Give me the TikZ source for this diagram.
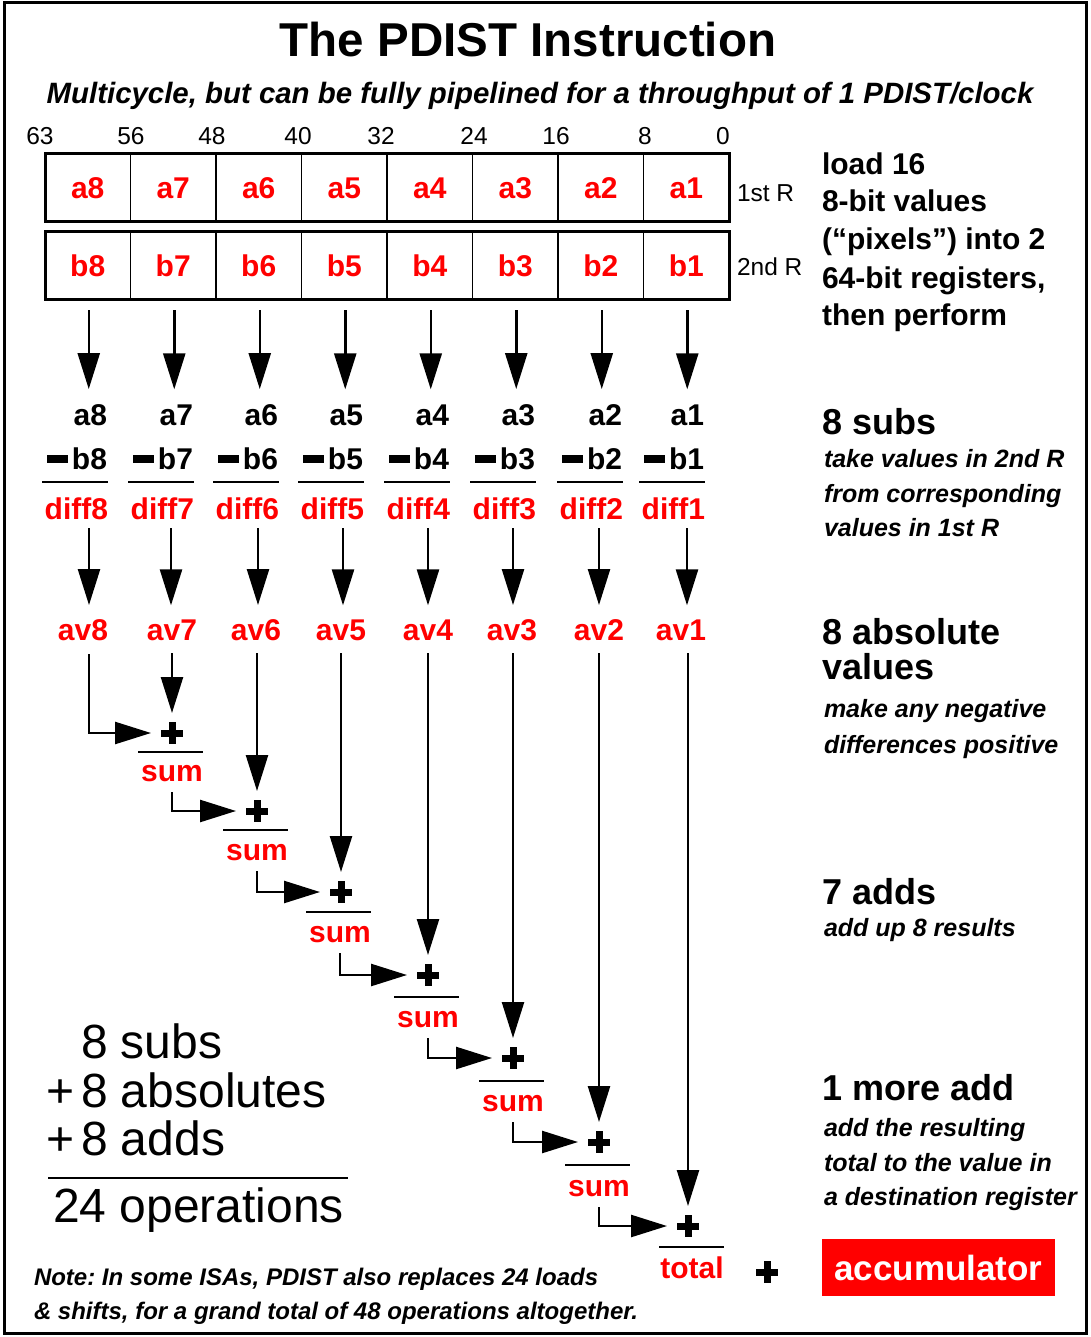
\documentclass[tikz,border=0pt]{standalone}
\usepackage{fontspec}
\setmainfont{Liberation Sans}
\usetikzlibrary{arrows.meta}
\frenchspacing
\newcommand\fsz[1]{\fontsize{#1pt}{#1pt}\selectfont}
\newcommand\minusbar{\rule[6pt]{21pt}{8pt}\hspace{4pt}}
\tikzset{
  txt/.style={inner sep=0pt, outer sep=0pt},
  cell/.style={draw, line width=1.5pt, minimum width=85.5pt, minimum height=68pt,
    inner sep=0pt, outer sep=0pt, text=red, font=\fsz{30}\bfseries},
  bitno/.style={txt, anchor=base, font=\fsz{24.5}},
  rowtxt/.style={txt, font=\fsz{30}\bfseries},
  redtxt/.style={rowtxt, text=red},
  headA/.style={txt, anchor=base west, font=\fsz{30}\bfseries},
  headB/.style={txt, anchor=base west, font=\fsz{36}\bfseries},
  expl/.style={txt, anchor=base west, font=\fsz{25}\bfseries\itshape},
  sumtxt/.style={txt, anchor=base west, font=\fsz{48}},
  notetxt/.style={txt, anchor=base west, font=\fsz{24}\bfseries\itshape},
  rulel/.style={line width=2.5pt},
  arr/.style={line width=2.5pt, -{Triangle[length=36pt,width=22pt]}},
  bigplus/.style={minimum size=22pt, inner sep=0pt, outer sep=0pt, fill=white,
    path picture={
      \fill[black] ([yshift=-3.5pt]path picture bounding box.west) rectangle ([yshift=3.5pt]path picture bounding box.east);
      \fill[black] ([xshift=-3.5pt]path picture bounding box.south) rectangle ([xshift=3.5pt]path picture bounding box.north);
    }},
}
\begin{document}
\begin{tikzpicture}[x=1pt,y=-1pt]
\useasboundingbox (0,0) rectangle (1090,1337);
\draw[line width=3pt] (4,3) rectangle (1086,1333);

% headings
\node[txt, anchor=base, font=\fsz{47.5}\bfseries] (title) at (528,57) {The PDIST Instruction};
\node[txt, anchor=base, font=\fsz{29.4}\bfseries\itshape] (subtitle) at (540,104)
  {Multicycle, but can be fully pipelined for a throughput of 1 PDIST/clock};

% bit positions
\foreach \lab/\x in {63/40,56/131,48/212,40/298,32/381,24/474,16/556,8/645,0/723}
  \node[bitno] (bit\lab) at (\x,145) {\lab};

% the two 64-bit registers
\foreach \i in {1,...,8}{
  \pgfmathsetmacro\cx{45+85.5*(8-\i)+42.75}
  \node[cell] (ra\i) at (\cx,188) {a\i};
  \node[cell] (rb\i) at (\cx,266) {b\i};
}
\draw[line width=3pt] (ra8.north west) rectangle (ra1.south east);
\draw[line width=3pt] (rb8.north west) rectangle (rb1.south east);
\node[txt, anchor=base west, font=\fsz{24.5}] (r1lab) at (737,202) {1st R};
\node[txt, anchor=base west, font=\fsz{24.5}] (r2lab) at (737,276) {2nd R};

% subtractions
\foreach \i/\R in {8/107,7/193,6/278,5/363,4/449,3/535,2/622,1/704}{
  \node[rowtxt, anchor=base east] (ta\i) at (\R,425) {a\i};
  \node[rowtxt, anchor=base east] (tb\i) at (\R,469) {\minusbar b\i};
  \draw[rulel] (\R-65,482) -- (\R+1,482);
  \node[redtxt, anchor=base east] (td\i) at (\R+1,519) {diff\i};
}
\foreach \i in {1,...,8}
  \draw[arr, shorten <=10pt, shorten >=15pt] ([xshift=1pt]rb\i.south) -- ([xshift=1pt]rb\i.south |- ta\i.north);

% absolute values
\foreach \i/\x in {8/83,7/172,6/256,5/341,4/428,3/512,2/599,1/681}
  \node[redtxt, anchor=base] (av\i) at (\x,640) {av\i};
\foreach \i/\x in {8/89,7/171,6/258,5/343,4/428,3/513,2/599,1/687}{
  \coordinate (col\i) at (\x,0);
  \draw[arr, shorten <=9pt, shorten >=14pt] (col\i |- td\i.south) -- (col\i |- av\i.north);
}

% adder chain
\foreach \k/\px/\py in {1/172/733,2/257/811,3/341/892,4/428/975,5/513/1058,6/599/1142,7/688/1226}
  \node[bigplus] (p\k) at (\px,\py) {};
\foreach \k/\sx/\ry/\sb in {1/172/752/781,2/257/830/860,3/340/912/942,4/428/997/1027,5/513/1081/1111,6/599/1165/1196}{
  \draw[rulel] (\sx-34,\ry) -- (\sx+31,\ry);
  \node[redtxt, anchor=base] (s\k) at (\sx,\sb) {sum};
}
\draw[rulel] (659,1247) -- (724,1247);
\node[redtxt, anchor=base] (s7) at (692,1278) {total};

\draw[arr, shorten <=14pt, shorten >=10pt] (col8 |- av8.south) |- (p1.west);
\foreach \k [evaluate=\k as \n using int(\k+1)] in {1,...,6}
  \draw[arr, shorten <=11pt, shorten >=10pt] (s\k.south) |- (p\n.west);
\foreach \k/\j in {1/7,2/6,3/5,4/4,5/3,6/2,7/1}
  \draw[arr, shorten <=13pt, shorten >=9pt] (p\k.north |- av\j.south) -- (p\k.north);

% accumulate
\node[bigplus] (pacc) at (767,1272) {};
\node[fill=red, text=white, font=\fsz{35}\bfseries, minimum width=233pt,
      minimum height=57pt, inner sep=0pt] (acc) at (938.5,1267.5) {accumulator};

% explanations on the right
\node[headA] (l1) at (822,175) {load 16};
\node[headA] (l2) at (822,212) {8-bit values};
\node[headA] (l3) at (822,250) {(“pixels”) into 2};
\node[headA] (l4) at (822,288) {64-bit registers,};
\node[headA] (l5) at (822,325) {then perform};

\node[headB] (h1) at (822,434) {8 subs};
\node[expl] (e11) at (824,467) {take values in 2nd R};
\node[expl] (e12) at (824,502) {from corresponding};
\node[expl] (e13) at (824,536) {values in 1st R};

\node[headB] (h2) at (822,644) {8 absolute};
\node[headB] (h2b) at (822,679) {values};
\node[expl] (e21) at (824,717) {make any negative};
\node[expl] (e22) at (824,753) {differences positive};

\node[headB] (h3) at (822,904) {7 adds};
\node[expl] (e31) at (824,936) {add up 8 results};

\node[headB] (h4) at (822,1100) {1 more add};
\node[expl] (e41) at (824,1136) {add the resulting};
\node[expl] (e42) at (824,1171) {total to the value in};
\node[expl] (e43) at (824,1205) {a destination register};

% operation count
\node[sumtxt] (c1) at (81,1058) {8 subs};
\node[sumtxt] (c2p) at (46,1107) {+};
\node[sumtxt] (c2) at (81,1107) {8 absolutes};
\node[sumtxt] (c3p) at (46,1155) {+};
\node[sumtxt] (c3) at (81,1155) {8 adds};
\draw[rulel] (48,1178) -- (348,1178);
\node[sumtxt] (c4) at (53,1222) {24 operations};

% note
\node[notetxt] (n1) at (34,1285) {Note: In some ISAs, PDIST also replaces 24 loads};
\node[notetxt] (n2) at (34,1319) {\& shifts, for a grand total of 48 operations altogether.};
\end{tikzpicture}
\end{document}
